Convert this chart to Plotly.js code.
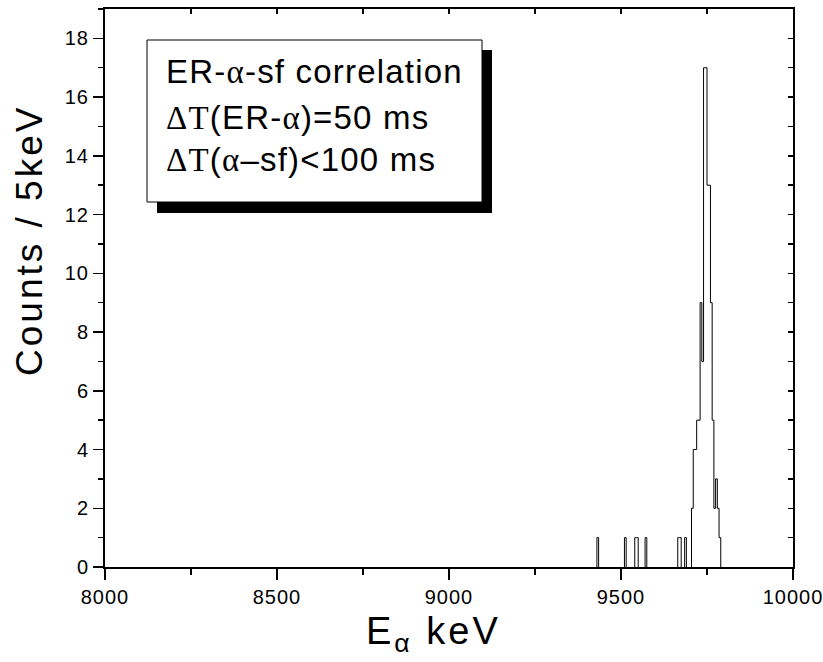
<!DOCTYPE html>
<html>
<head>
<meta charset="utf-8">
<script src="https://cdn.plot.ly/plotly-3.0.1.min.js"></script>
<style>
  html, body { margin: 0; padding: 0; background: #fff; }
  #chart { width: 823px; height: 662px; }
  #chart .xtick text, #chart .ytick text { letter-spacing: 1px; }
</style>
</head>
<body>
<div id="chart"></div>
<script>
// ---- data ----
const binLowKeV = [9430, 9510, 9540, 9545, 9570, 9665, 9670, 9685,
                   9705, 9710, 9715, 9720, 9725, 9730, 9735, 9740, 9745,
                   9750, 9755, 9760, 9765, 9770, 9775, 9780, 9785];
const binCounts = [1, 1, 1, 1, 1, 1, 1, 1,
                   2, 4, 4, 5, 5, 9, 7, 17, 17,
                   13, 13, 9, 5, 2, 3, 2, 1];
const binWidthKeV = 5;
const xTickVals = [8000, 8500, 9000, 9500, 10000];
const xTickText = ['8000', '8500', '9000', '9500', '10000'];
const yTickVals = [0, 2, 4, 6, 8, 10, 12, 14, 16, 18];
const yTickText = ['0', '2', '4', '6', '8', '10', '12', '14', '16', '18'];
const SERIF = "font-family:'Liberation Serif','Times New Roman',serif";
const boxLines = [
  "ER-<span style=\"" + SERIF + "\">α</span>-sf correlation",
  "<span style=\"" + SERIF + "\">ΔT</span>(ER-<span style=\"" + SERIF + "\">α</span>)=50 ms",
  "<span style=\"" + SERIF + "\">ΔT</span>(<span style=\"" + SERIF + "\">α</span>–sf)&lt;100 ms"
];
const yTitle = 'Counts / 5keV';
const xTitle = 'E<sub>α</sub> keV';

// ---- build step outline from bins (runs of adjacent bins, gaps between) ----
const order = binLowKeV.map((v, i) => i).sort((a, b) => binLowKeV[a] - binLowKeV[b]);
const xs = [], ys = [];
let prevEnd = null, prevCount = 0;
order.forEach(i => {
  const s = binLowKeV[i], e = s + binWidthKeV, c = binCounts[i];
  if (prevEnd === null || s !== prevEnd) {
    if (prevEnd !== null) { xs.push(prevEnd); ys.push(0); xs.push(null); ys.push(null); }
    xs.push(s); ys.push(0);
  } else {
    xs.push(s); ys.push(prevCount);
  }
  xs.push(s); ys.push(c);
  xs.push(e); ys.push(c);
  prevEnd = e; prevCount = c;
});
xs.push(prevEnd); ys.push(0);

// ---- layout geometry ----
const W = 823, H = 662;
const M = {l: 105, r: 30, t: 9, b: 95};
const pw = W - M.l - M.r, ph = H - M.t - M.b;
const px = v => (v - M.l) / pw;          // pixel x -> paper
const py = v => (H - M.b - v) / ph;      // pixel y -> paper

const FONT = "Arial, 'Liberation Sans', Helvetica, sans-serif";
const spaced = (t, s) => '<span style="letter-spacing:' + s + 'px">' + t + '</span>';

const traces = [
  {
    x: xs, y: ys, type: 'scatter', mode: 'lines', connectgaps: false,
    line: {color: '#000', width: 1},
    hoverinfo: 'skip', showlegend: false
  },
  {
    x: [8000], y: [0], xaxis: 'x2', yaxis: 'y2', type: 'scatter', mode: 'markers',
    marker: {opacity: 0, size: 1},
    showlegend: false, hoverinfo: 'skip'
  }
];

const axisCommon = {
  showgrid: false, zeroline: false, showline: true,
  linecolor: '#000', linewidth: 2, tickcolor: '#000', tickwidth: 1.5,
  tickfont: {family: FONT, size: 20, color: '#000'}
};

const layout = {
  width: W, height: H,
  margin: M,
  paper_bgcolor: '#fff', plot_bgcolor: '#fff',
  showlegend: false,
  font: {family: FONT, color: '#000'},
  xaxis: Object.assign({}, axisCommon, {
    range: [8000, 10000], tickmode: 'array', tickvals: xTickVals, ticktext: xTickText,
    ticks: 'outside', ticklen: 11,
    minor: {tickmode: 'linear', dtick: 250, tick0: 8000, ticks: 'outside', ticklen: 6, tickwidth: 1.5, tickcolor: '#000', showgrid: false}
  }),
  yaxis: Object.assign({}, axisCommon, {
    range: [0, 19], tickmode: 'array', tickvals: yTickVals, ticktext: yTickText,
    ticks: 'outside', ticklen: 10,
    minor: {tickmode: 'linear', dtick: 1, tick0: 0, ticks: 'outside', ticklen: 5, tickwidth: 1.5, tickcolor: '#000', showgrid: false}
  }),
  xaxis2: {
    overlaying: 'x', side: 'top', anchor: 'y', range: [8000, 10000],
    tickmode: 'linear', dtick: 250, tick0: 8000, ticks: 'inside', ticklen: 5, tickwidth: 1.5, tickcolor: '#000',
    showticklabels: false, showgrid: false, zeroline: false,
    showline: true, linecolor: '#000', linewidth: 2
  },
  yaxis2: {
    overlaying: 'y', side: 'right', anchor: 'x', range: [0, 19],
    tickmode: 'linear', dtick: 1, tick0: 0, ticks: 'inside', ticklen: 5, tickwidth: 1.5, tickcolor: '#000',
    showticklabels: false, showgrid: false, zeroline: false,
    showline: true, linecolor: '#000', linewidth: 2
  },
  shapes: [
    {type: 'rect', xref: 'paper', yref: 'paper',
     x0: px(157), x1: px(492), y0: py(213), y1: py(50),
     fillcolor: '#000', line: {width: 0}},
    {type: 'rect', xref: 'paper', yref: 'paper',
     x0: px(147), x1: px(482), y0: py(202), y1: py(40),
     fillcolor: '#fff', line: {color: '#000', width: 1}}
  ],
  annotations: [
    {text: spaced(boxLines[0], 1.2), xref: 'paper', yref: 'paper', x: px(164), y: py(71),
     xanchor: 'left', yanchor: 'middle', showarrow: false,
     font: {family: FONT, size: 33, color: '#000'}},
    {text: spaced(boxLines[1], 1.2), xref: 'paper', yref: 'paper', x: px(164), y: py(117),
     xanchor: 'left', yanchor: 'middle', showarrow: false,
     font: {family: FONT, size: 33, color: '#000'}},
    {text: spaced(boxLines[2], 1.2), xref: 'paper', yref: 'paper', x: px(164), y: py(160),
     xanchor: 'left', yanchor: 'middle', showarrow: false,
     font: {family: FONT, size: 33, color: '#000'}},
    {text: spaced(yTitle, 3), xref: 'paper', yref: 'paper', x: px(29), y: py(241),
     xanchor: 'center', yanchor: 'middle', textangle: -90, showarrow: false,
     font: {family: FONT, size: 37, color: '#000'}},
    {text: spaced(xTitle, 3), xref: 'paper', yref: 'paper', x: px(433), y: py(634),
     xanchor: 'center', yanchor: 'middle', showarrow: false,
     font: {family: FONT, size: 38, color: '#000'}}
  ]
};

Plotly.newPlot('chart', traces, layout, {staticPlot: true, displayModeBar: false});
</script>
</body>
</html>
